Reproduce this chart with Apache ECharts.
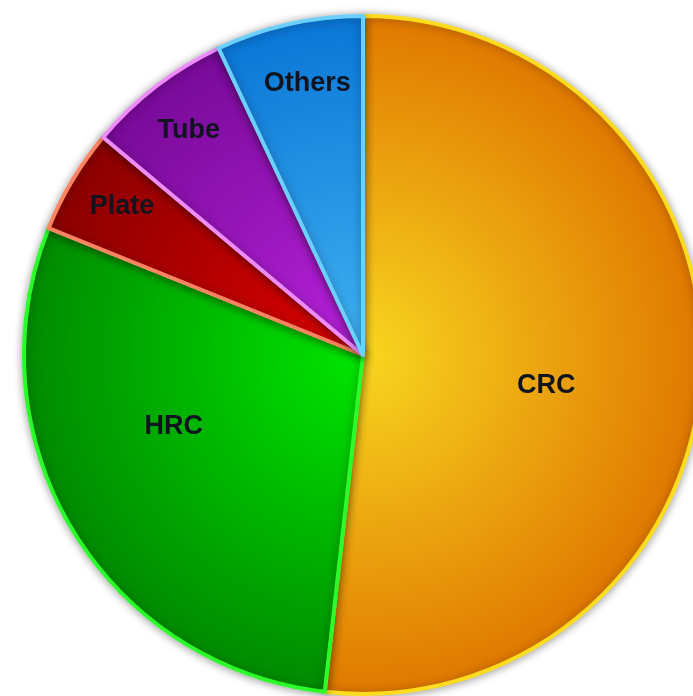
<!DOCTYPE html>
<html><head><meta charset="utf-8">
<script src="https://cdn.jsdelivr.net/npm/echarts@6/dist/echarts.min.js"></script>
<style>html,body{margin:0;padding:0;background:#fff}#c{width:693px;height:696px}</style>
</head><body><div id="c"></div>
<script>
const categories = ['CRC', 'HRC', 'Plate', 'Tube', 'Others'];
const values = [51.8, 29.3, 5.0, 6.9, 7.0];

// styling
const innerColors = ['#f8d620', '#00e600', '#e00000', '#b822dc', '#40b2f2'];
const outerColors = ['#e07800', '#008a00', '#8a0000', '#780a98', '#0a76d6'];
const borderColors = ['#ffdc1e', '#2aff2a', '#ff8462', '#ee8cff', '#6cd0ff'];
const labelOffsets = [[11, 21], [-41, -17], [-93, -60], [-69, -88], [-18, -103]];
const CX = 363, CY = 355, R = 339;

const chart = echarts.init(document.getElementById('c'));
chart.setOption({
  animation: false,
  series: [{
    type: 'pie',
    center: [CX, CY],
    radius: [0, R],
    startAngle: 90,
    clockwise: true,
    avoidLabelOverlap: false,
    labelLine: { show: false },
    data: categories.map((n, i) => ({
      name: n,
      value: values[i],
      itemStyle: {
        color: {
          type: 'radial', x: CX, y: CY, r: R, global: true,
          colorStops: [{ offset: 0, color: innerColors[i] }, { offset: 1, color: outerColors[i] }]
        },
        borderColor: borderColors[i],
        borderWidth: 4,
        shadowBlur: 10,
        shadowColor: 'rgba(0,0,0,0.35)',
        shadowOffsetX: 0,
        shadowOffsetY: 1
      },
      label: { offset: labelOffsets[i] }
    })),
    label: {
      show: true,
      position: 'inside',
      formatter: '{b}',
      color: '#101420',
      fontFamily: 'Liberation Sans, Arial, sans-serif',
      fontWeight: 'bold',
      fontSize: 27
    },
    emphasis: { disabled: true }
  }]
});
</script></body></html>
